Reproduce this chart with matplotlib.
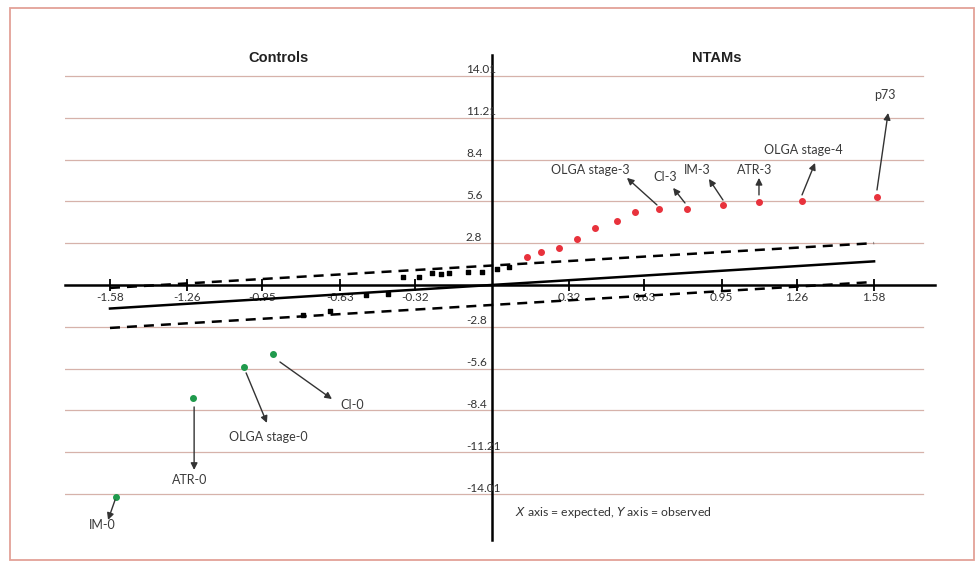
import matplotlib.pyplot as plt
import matplotlib.transforms as mtransforms
from matplotlib.patches import Rectangle

plt.rcParams['font.family'] = ['Lato', 'DejaVu Sans']

# expected (x) vs observed (y)
ctrl_x = [-1.555, -1.237, -1.026, -0.906]
ctrl_y = [-14.2, -7.57, -5.49, -4.62]

ntam_x = [0.145, 0.203, 0.277, 0.352, 0.426, 0.517, 0.591, 0.691, 0.806, 0.955, 1.104, 1.282, 1.592]
ntam_y = [1.88, 2.21, 2.48, 3.08, 3.82, 4.29, 4.89, 5.09, 5.09, 5.36, 5.56, 5.63, 5.89]

mid_x = [-0.78, -0.67, -0.52, -0.43, -0.37, -0.30, -0.25, -0.21, -0.18, -0.10, -0.04, 0.02, 0.07]
mid_y = [-2.0, -1.75, -0.65, -0.6, 0.55, 0.55, 0.8, 0.75, 0.8, 0.9, 0.9, 1.1, 1.2]

# reference line and band (end points)
line_x = [-1.58, 1.58]
fit_y = [-1.58, 1.58]
upper_y = [-0.2, 2.8]
lower_y = [-2.88, 0.2]

xticks = [-1.58, -1.26, -0.95, -0.63, -0.32, 0.32, 0.63, 0.95, 1.26, 1.58]
xtick_labels = ['-1.58', '-1.26', '-0.95', '-0.63', '-0.32', '0.32', '0.63', '0.95', '1.26', '1.58']
yticks = [14.01, 11.21, 8.4, 5.6, 2.8, -2.8, -5.6, -8.4, -11.21, -14.01]
ytick_labels = ['14.01', '11.21', '8.4', '5.6', '2.8', '-2.8', '-5.6', '-8.4', '-11.21', '-14.01']

# label, text position, arrow tail, arrow tip
labels = [
    ('OLGA stage-3', (0.405, 7.70), (0.682, 5.36), (0.558, 7.17)),
    ('CI-3', (0.715, 7.23), (0.798, 5.49), (0.749, 6.50)),
    ('IM-3', (0.848, 7.70), (0.955, 5.69), (0.897, 7.10)),
    ('ATR-3', (1.088, 7.70), (1.104, 6.03), (1.104, 7.17)),
    ('OLGA stage-4', (1.286, 9.04), (1.282, 6.03), (1.336, 8.17)),
    ('p73', (1.625, 12.73), (1.592, 6.36), (1.638, 11.52)),
    ('CI-0', (-0.579, -8.04), (-0.877, -5.16), (-0.662, -7.64)),
    ('OLGA stage-0', (-0.926, -10.18), (-1.017, -5.89), (-0.931, -9.24)),
    ('ATR-0', (-1.249, -13.06), (-1.232, -8.17), (-1.232, -12.39)),
    ('IM-0', (-1.613, -16.07), (-1.559, -14.4), (-1.588, -15.74)),
]

fig = plt.figure(figsize=(9.76, 5.63), dpi=100)
fig.patches.append(Rectangle((0.0102, 0.0053), 0.9877, 0.9805, transform=fig.transFigure,
                             fill=False, edgecolor='#e3a197', lw=1.3))
ax = fig.add_axes([0.0666, 0.0409, 0.8914, 0.8614])
ax.set_xlim(-1.766, 1.832)
ax.set_ylim(-17.08, 15.40)

for v in yticks:
    ax.axhline(v, xmin=0, xmax=0.986, color='#d6b2aa', lw=0.9, zorder=0)

ax.spines['left'].set_position(('data', 0))
ax.spines['bottom'].set_position(('data', 0))
ax.spines['right'].set_visible(False)
ax.spines['top'].set_visible(False)
ax.spines['left'].set_linewidth(1.8)
ax.spines['bottom'].set_linewidth(1.8)
ax.spines['bottom'].set_zorder(1)

ax.set_xticks(xticks)
ax.set_xticklabels(xtick_labels, fontsize=8.5, color='#333333')
ax.tick_params(axis='x', direction='inout', length=8, width=1.3, pad=1)
ax.set_yticks([])

off = mtransforms.offset_copy(ax.transData, fig=fig, x=0, y=6, units='dots')
for v, lab in zip(yticks, ytick_labels):
    ax.text(-0.108, v, lab, transform=off, ha='left', va='center', fontsize=8.5, color='#333333')

ax.plot(line_x, fit_y, color='black', lw=1.8, zorder=2)
ax.plot(line_x, upper_y, color='black', lw=1.8, dashes=(4, 2.8), zorder=2)
ax.plot(line_x, lower_y, color='black', lw=1.8, dashes=(4, 2.8), zorder=2)

ax.scatter(mid_x, mid_y, s=6, marker='s', color='black', zorder=3)
ax.scatter(ntam_x, ntam_y, s=16, color='#e8323c', zorder=3)
ax.scatter(ctrl_x, ctrl_y, s=16, color='#1f9a4c', zorder=3)

for text, pos, tail, tip in labels:
    ax.text(pos[0], pos[1], text, ha='center', va='center', fontsize=9, color='#3a3a3a')
    ax.annotate('', xy=tip, xytext=tail,
                arrowprops=dict(arrowstyle='-|>', color='#333333', lw=1.0,
                                mutation_scale=10, shrinkA=0, shrinkB=0))

ax.text(-0.881, 15.2, 'Controls', ha='center', va='center', fontsize=10.5,
        fontweight='bold', family='Liberation Sans', color='#222222')
ax.text(0.93, 15.2, 'NTAMs', ha='center', va='center', fontsize=10.5,
        fontweight='bold', family='Liberation Sans', color='#222222')

ax.text(0.095, -15.27, r'$X$ axis = expected, $Y$ axis = observed', ha='left', va='center',
        fontsize=8.8, color='#333333')

fig.savefig('out.png', dpi=100)
